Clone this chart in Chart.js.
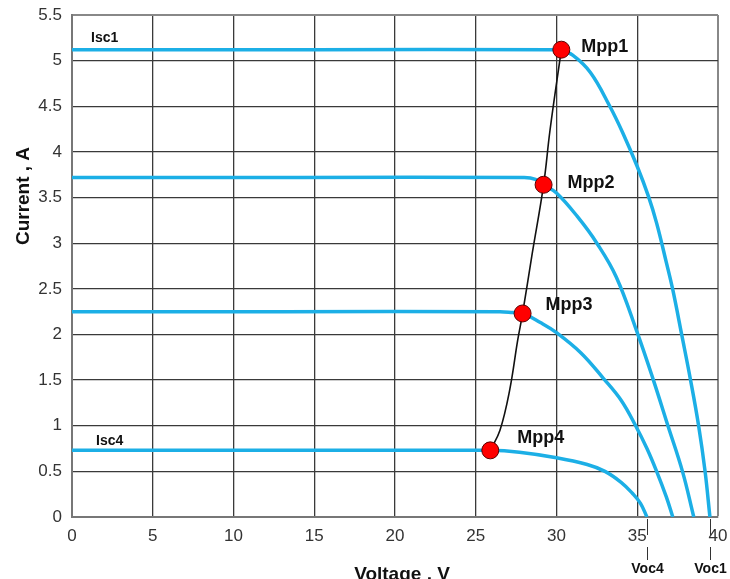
<!DOCTYPE html>
<html>
<head>
<meta charset="utf-8">
<script src="https://cdn.jsdelivr.net/npm/chart.js@4"></script>
<style>
html,body{margin:0;padding:0;background:#fff;}
#wrap{width:730px;height:579px;position:relative;}
</style>
</head>
<body>
<div id="wrap"><canvas id="c" width="730" height="579"></canvas></div>
<script>
// ---- data ----
const xTicks = [0, 5, 10, 15, 20, 25, 30, 35, 40];
const yTicks = [0, 0.5, 1, 1.5, 2, 2.5, 3, 3.5, 4, 4.5, 5, 5.5];

const curveNames = ['Curve 1', 'Curve 2', 'Curve 3', 'Curve 4'];
const voltage1 = [0, 15, 29.6, 30.3, 31.0, 32.1, 33.3, 34.1, 35.0, 35.7, 36.2, 36.8, 37.2, 37.75, 38.3, 38.8, 39.2, 39.5];
const current1 = [5.12, 5.12, 5.12, 5.11, 5.06, 4.87, 4.50, 4.21, 3.84, 3.51, 3.22, 2.79, 2.49, 2.00, 1.50, 1.00, 0.50, 0];
const voltage2 = [0, 14, 28.0, 28.7, 29.2, 30.0, 31.3, 32.5, 33.7, 35.0, 36.0, 36.9, 37.8, 38.5];
const current2 = [3.72, 3.72, 3.72, 3.70, 3.64, 3.55, 3.29, 3.00, 2.63, 2.02, 1.50, 1.00, 0.50, 0];
const voltage3 = [0, 13, 26.5, 27.3, 27.9, 29.0, 30.0, 31.5, 32.9, 34.0, 34.9, 35.6, 36.2, 36.8, 37.2];
const current3 = [2.25, 2.25, 2.25, 2.24, 2.23, 2.13, 2.02, 1.80, 1.52, 1.28, 1.00, 0.75, 0.50, 0.22, 0];
const voltage4 = [0, 13, 25.9, 27.7, 30.0, 31.9, 33.0, 34.0, 34.7, 35.2, 35.6];
const current4 = [0.73, 0.73, 0.73, 0.71, 0.65, 0.575, 0.50, 0.38, 0.26, 0.15, 0];

const mppLabels = ['Mpp1', 'Mpp2', 'Mpp3', 'Mpp4'];
const mppVoltage = [30.3, 29.2, 27.9, 25.9];
const mppCurrent = [5.12, 3.64, 2.23, 0.73];

const mppLineVoltage = [25.9, 26.5, 27.1, 27.6, 27.9, 28.5, 29.2, 29.6, 30.3];
const mppLineCurrent = [0.73, 0.95, 1.39, 1.94, 2.23, 2.89, 3.64, 4.24, 5.12];

const iscLabels = ['Isc1', 'Isc4'];
const iscCurrent = [5.12, 0.73];
const vocLabels = ['Voc4', 'Voc1'];
const vocVoltage = [35.6, 39.5];

// ---- styles / label offsets ----
const BLUE = '#1cafe6';
const FONT = "'Liberation Sans', Arial, Helvetica, sans-serif";
const mppLabelOffsets = [[20, -3], [24, -2], [23, -8], [27, -12]];
const iscLabelOffsets = [[19, -12], [24, -9]];

const toXY = (xs, ys) => xs.map((x, i) => ({x: x, y: ys[i]}));
const curves = [[voltage1, current1], [voltage2, current2], [voltage3, current3], [voltage4, current4]];

const datasets = [];
datasets.push({
  label: 'MPP', type: 'scatter', order: 0,
  data: toXY(mppVoltage, mppCurrent),
  pointRadius: 8.5, pointHoverRadius: 8.5,
  backgroundColor: '#ff0000', borderColor: '#5a0000', borderWidth: 1
});
datasets.push({
  label: 'MPP line', type: 'line', order: 1,
  data: toXY(mppLineVoltage, mppLineCurrent),
  borderColor: '#111', borderWidth: 1.6, pointRadius: 0,
  tension: 0.4, fill: false
});
curves.forEach((c, i) => {
  datasets.push({
    label: curveNames[i], type: 'line', order: 2,
    data: toXY(c[0], c[1]),
    borderColor: BLUE, borderWidth: 3.5, pointRadius: 0,
    tension: 0.4, fill: false
  });
});

const annotations = {
  id: 'annotations',
  afterDatasetsDraw(chart) {
    const ctx = chart.ctx;
    const xs = chart.scales.x, ys = chart.scales.y;
    ctx.save();
    ctx.fillStyle = '#111';
    ctx.textBaseline = 'middle';
    ctx.textAlign = 'left';
    ctx.font = 'bold 18px ' + FONT;
    mppLabels.forEach((t, i) => {
      const px = xs.getPixelForValue(mppVoltage[i]) + mppLabelOffsets[i][0];
      const py = ys.getPixelForValue(mppCurrent[i]) + mppLabelOffsets[i][1];
      ctx.fillText(t, px, py);
    });
    ctx.font = 'bold 14px ' + FONT;
    iscLabels.forEach((t, i) => {
      const px = xs.getPixelForValue(0) + iscLabelOffsets[i][0];
      const py = ys.getPixelForValue(iscCurrent[i]) + iscLabelOffsets[i][1];
      ctx.fillText(t, px, py);
    });
    // Voc markers
    const y0 = ys.getPixelForValue(0);
    ctx.strokeStyle = '#333';
    ctx.lineWidth = 1;
    ctx.textAlign = 'center';
    ctx.font = 'bold 14px ' + FONT;
    vocLabels.forEach((t, i) => {
      const px = Math.round(xs.getPixelForValue(vocVoltage[i])) + 0.5;
      ctx.beginPath();
      ctx.moveTo(px, y0 + 2); ctx.lineTo(px, y0 + 18);
      ctx.moveTo(px, y0 + 30); ctx.lineTo(px, y0 + 43);
      ctx.stroke();
      ctx.fillText(t, px, y0 + 52);
    });
    // axis titles
    ctx.font = 'bold 19px ' + FONT;
    ctx.textAlign = 'center';
    ctx.textBaseline = 'alphabetic';
    ctx.fillText('Voltage , V', (chart.chartArea.left + chart.chartArea.right) / 2 + 7, 580);
    ctx.save();
    ctx.translate(29, 196);
    ctx.rotate(-Math.PI / 2);
    ctx.fillText('Current , A', 0, 0);
    ctx.restore();
    ctx.restore();
  }
};

const gridColor = (edge) => (ctx) => {
  const v = ctx.tick ? ctx.tick.value : null;
  return (v === edge) ? '#888' : '#3a3a3a';
};
const gridWidth = (edge) => (ctx) => {
  const v = ctx.tick ? ctx.tick.value : null;
  return (v === edge) ? 2 : 1.3;
};

new Chart(document.getElementById('c'), {
  type: 'line',
  data: { datasets: datasets },
  options: {
    responsive: false,
    animation: false,
    events: [],
    layout: { autoPadding: false, padding: { top: 15, right: 12, left: 0, bottom: 0 } },
    plugins: { legend: { display: false }, tooltip: { enabled: false } },
    scales: {
      x: {
        type: 'linear', min: 0, max: 40,
        afterFit(s) { s.height = 62; s.paddingLeft = 0; s.paddingRight = 0; },
        afterBuildTicks(s) { s.ticks = xTicks.map(v => ({value: v})); },
        grid: { color: gridColor(40), lineWidth: gridWidth(40), drawTicks: false },
        border: { color: '#777', width: 2 },
        ticks: { color: '#333', padding: 9, font: { family: FONT, size: 17 }, maxRotation: 0, autoSkip: false,
                 callback: (v) => String(v) }
      },
      y: {
        type: 'linear', min: 0, max: 5.5,
        afterFit(s) { s.width = 72; s.paddingTop = 0; s.paddingBottom = 0; },
        afterBuildTicks(s) { s.ticks = yTicks.map(v => ({value: v})); },
        grid: { color: gridColor(5.5), lineWidth: gridWidth(5.5), drawTicks: false },
        border: { color: '#777', width: 2 },
        ticks: { color: '#333', padding: 10, font: { family: FONT, size: 17 }, autoSkip: false,
                 callback: (v) => String(v) }
      }
    }
  },
  plugins: [annotations]
});
</script>
</body>
</html>
